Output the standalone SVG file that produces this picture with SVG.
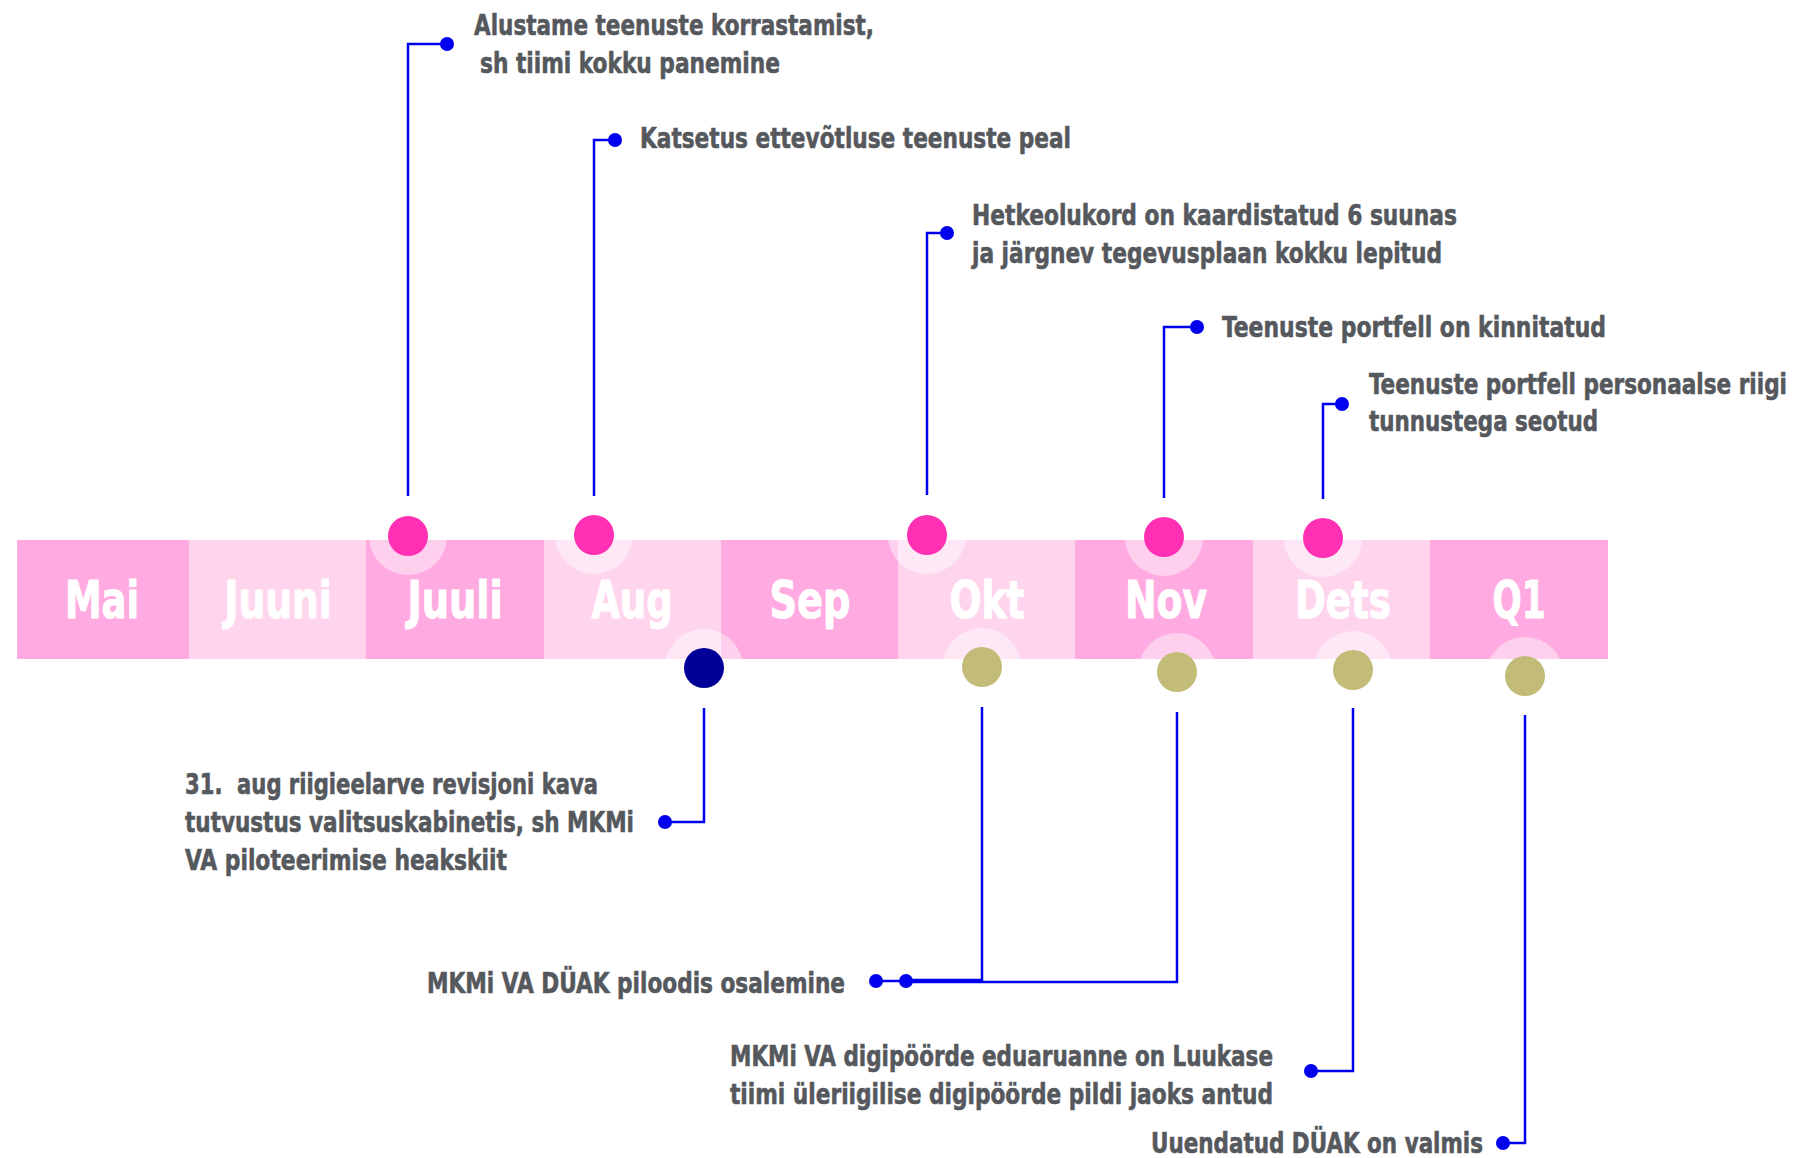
<svg xmlns="http://www.w3.org/2000/svg" width="1803" height="1158" viewBox="0 0 1803 1158">
<style>
.dk{fill:#FFAAE1}
.lt{fill:#FFD5EE}
.mon{font-family:"DejaVu Sans Condensed","DejaVu Sans",sans-serif;font-weight:bold;font-size:52px;fill:#FFFFFF;stroke:#FFFFFF;stroke-width:1;text-anchor:middle}
.lbl{font-family:"DejaVu Sans Condensed","DejaVu Sans",sans-serif;font-weight:bold;font-size:29px;fill:#55585C;stroke:#55585C;stroke-width:0.6}
.halo{fill:#FFFFFF;fill-opacity:0.45}
.pk{fill:#FF30B4}
.nv{fill:#000099}
.ol{fill:#C2BC78}
.con{fill:none;stroke:#0000EE;stroke-width:2.5}
.end{fill:#0000EE}
</style>
<defs>
<clipPath id="band"><rect x="17" y="540" width="1591" height="119"/></clipPath>
</defs>
<rect width="1803" height="1158" fill="#FFFFFF"/>
<g id="timeline">
<rect class="dk" x="17" y="540" width="172" height="119"/>
<rect class="lt" x="189" y="540" width="177" height="119"/>
<rect class="dk" x="366" y="540" width="178" height="119"/>
<rect class="lt" x="544" y="540" width="177" height="119"/>
<rect class="dk" x="721" y="540" width="177" height="119"/>
<rect class="lt" x="898" y="540" width="177" height="119"/>
<rect class="dk" x="1075" y="540" width="178" height="119"/>
<rect class="lt" x="1253" y="540" width="177" height="119"/>
<rect class="dk" x="1430" y="540" width="178" height="119"/>
<g clip-path="url(#band)">
<circle class="halo" cx="408" cy="536" r="39"/>
<circle class="halo" cx="594" cy="535" r="39"/>
<circle class="halo" cx="927" cy="535" r="39"/>
<circle class="halo" cx="1164" cy="537" r="39"/>
<circle class="halo" cx="1323" cy="538" r="39"/>
<circle class="halo" cx="704" cy="668" r="39"/>
<circle class="halo" cx="982" cy="667" r="39"/>
<circle class="halo" cx="1177" cy="672" r="39"/>
<circle class="halo" cx="1353" cy="670" r="39"/>
<circle class="halo" cx="1525" cy="676" r="39"/>
</g>
<text class="mon" x="102" y="618" textLength="74" lengthAdjust="spacingAndGlyphs">Mai</text>
<text class="mon" x="278" y="618" textLength="107" lengthAdjust="spacingAndGlyphs">Juuni</text>
<text class="mon" x="455" y="618" textLength="95" lengthAdjust="spacingAndGlyphs">Juuli</text>
<text class="mon" x="632" y="618" textLength="81" lengthAdjust="spacingAndGlyphs">Aug</text>
<text class="mon" x="810" y="618" textLength="81" lengthAdjust="spacingAndGlyphs">Sep</text>
<text class="mon" x="987" y="618" textLength="75" lengthAdjust="spacingAndGlyphs">Okt</text>
<text class="mon" x="1166" y="618" textLength="82" lengthAdjust="spacingAndGlyphs">Nov</text>
<text class="mon" x="1343" y="618" textLength="96" lengthAdjust="spacingAndGlyphs">Dets</text>
<text class="mon" x="1519" y="618" textLength="53" lengthAdjust="spacingAndGlyphs">Q1</text>
</g>
<g id="connectors">
<path class="con" d="M408,496 V44 H447"/>
<circle class="end" cx="447" cy="44" r="7"/>
<path class="con" d="M594,496 V140 H615"/>
<circle class="end" cx="615" cy="140" r="7"/>
<path class="con" d="M927,495 V233 H947"/>
<circle class="end" cx="947" cy="233" r="7"/>
<path class="con" d="M1164,498 V327 H1197"/>
<circle class="end" cx="1197" cy="327" r="7"/>
<path class="con" d="M1323,499 V404 H1342"/>
<circle class="end" cx="1342" cy="404" r="7"/>
<path class="con" d="M704,708 V822 H665"/>
<circle class="end" cx="665" cy="822" r="7"/>
<path class="con" d="M982,707 V980 H906"/>
<path class="con" d="M1177,712 V982 H906"/>
<path class="con" d="M876,981 H906"/>
<circle class="end" cx="906" cy="981" r="7"/>
<circle class="end" cx="876" cy="981" r="7"/>
<path class="con" d="M1353,708 V1071 H1311"/>
<circle class="end" cx="1311" cy="1071" r="7"/>
<path class="con" d="M1525,715 V1143 H1503"/>
<circle class="end" cx="1503" cy="1143" r="7"/>
</g>
<g id="m-juuli">
<circle class="pk" cx="408" cy="536" r="20"/>
<text class="lbl" x="474" y="35" textLength="400" lengthAdjust="spacingAndGlyphs">Alustame teenuste korrastamist,</text>
<text class="lbl" x="480" y="73" textLength="300" lengthAdjust="spacingAndGlyphs">sh tiimi kokku panemine</text>
</g>
<g id="m-aug">
<circle class="pk" cx="594" cy="535" r="20"/>
<text class="lbl" x="640" y="148" textLength="431" lengthAdjust="spacingAndGlyphs">Katsetus ettevõtluse teenuste peal</text>
</g>
<g id="m-okt">
<circle class="pk" cx="927" cy="535" r="20"/>
<text class="lbl" x="972" y="225" textLength="485" lengthAdjust="spacingAndGlyphs">Hetkeolukord on kaardistatud 6 suunas</text>
<text class="lbl" x="972" y="263" textLength="470" lengthAdjust="spacingAndGlyphs">ja järgnev tegevusplaan kokku lepitud</text>
</g>
<g id="m-nov">
<circle class="pk" cx="1164" cy="537" r="20"/>
<text class="lbl" x="1222" y="337" textLength="384" lengthAdjust="spacingAndGlyphs">Teenuste portfell on kinnitatud</text>
</g>
<g id="m-dets">
<circle class="pk" cx="1323" cy="538" r="20"/>
<text class="lbl" x="1369" y="394" textLength="418" lengthAdjust="spacingAndGlyphs">Teenuste portfell personaalse riigi</text>
<text class="lbl" x="1369" y="431" textLength="229" lengthAdjust="spacingAndGlyphs">tunnustega seotud</text>
</g>
<g id="b-aug">
<circle class="nv" cx="704" cy="668" r="20"/>
<text class="lbl" x="185" y="794" textLength="413" lengthAdjust="spacingAndGlyphs" xml:space="preserve">31.  aug riigieelarve revisjoni kava</text>
<text class="lbl" x="185" y="832" textLength="449" lengthAdjust="spacingAndGlyphs">tutvustus valitsuskabinetis, sh MKMi</text>
<text class="lbl" x="185" y="870" textLength="322" lengthAdjust="spacingAndGlyphs">VA piloteerimise heakskiit</text>
</g>
<g id="b-okt-nov">
<circle class="ol" cx="982" cy="667" r="20"/>
<circle class="ol" cx="1177" cy="672" r="20"/>
<text class="lbl" x="427" y="993" textLength="418" lengthAdjust="spacingAndGlyphs">MKMi VA DÜAK piloodis osalemine</text>
</g>
<g id="b-dets">
<circle class="ol" cx="1353" cy="670" r="20"/>
<text class="lbl" x="730" y="1066" textLength="543" lengthAdjust="spacingAndGlyphs">MKMi VA digipöörde eduaruanne on Luukase</text>
<text class="lbl" x="730" y="1104" textLength="543" lengthAdjust="spacingAndGlyphs">tiimi üleriigilise digipöörde pildi jaoks antud</text>
</g>
<g id="b-q1">
<circle class="ol" cx="1525" cy="676" r="20"/>
<text class="lbl" x="1151" y="1153" textLength="332" lengthAdjust="spacingAndGlyphs">Uuendatud DÜAK on valmis</text>
</g>
</svg>
